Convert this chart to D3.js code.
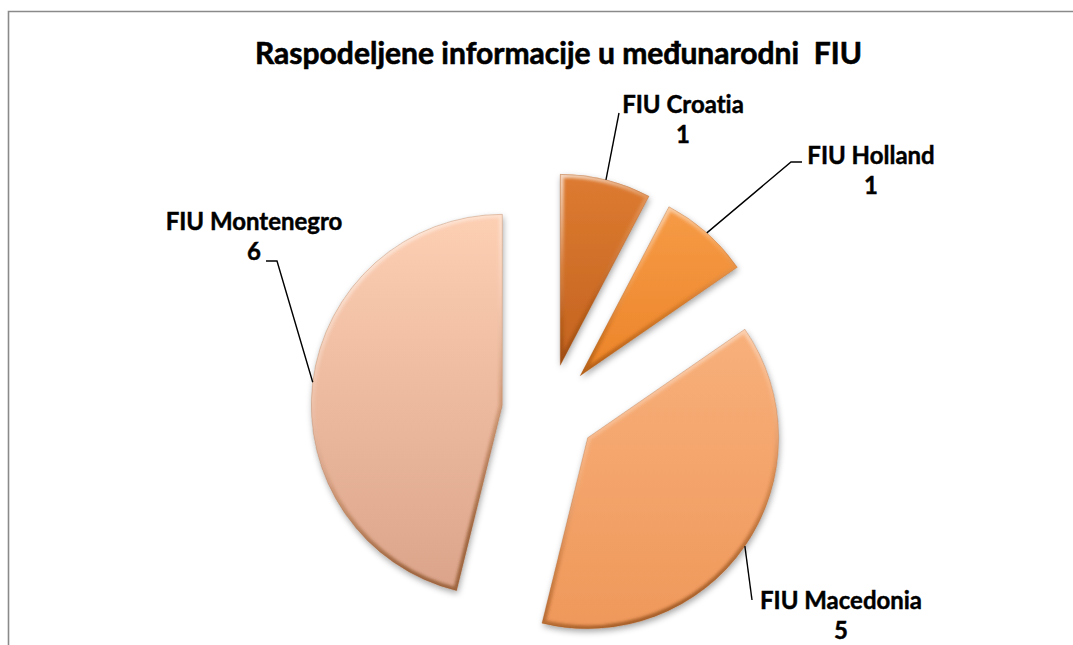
<!DOCTYPE html>
<html>
<head>
<meta charset="utf-8">
<script src="https://cdn.jsdelivr.net/npm/d3@7"></script>
<style>
  html, body { margin: 0; padding: 0; background: #fff; }
  svg { display: block; }
  text { font-family: Lato, "Open Sans", "Liberation Sans", sans-serif; font-weight: 700; fill: #000;
         stroke: #000; stroke-width: 0.45px; font-variant-ligatures: none; font-feature-settings: "liga" 0; }
</style>
</head>
<body>
<svg id="chart" width="1073" height="645"></svg>
<script>
// ---- data ----
const title = "Raspodeljene informacije u međunarodni  FIU";
const categories = ["FIU Croatia", "FIU Holland", "FIU Macedonia", "FIU Montenegro"];
const values = [1, 1, 5, 6];

// ---- styles ----
const gradTop    = ["#dd7b31", "#f69b47", "#f8b07b", "#fdcfb3"];
const gradBottom = ["#c3631f", "#ec8428", "#ef985a", "#dba48a"];

// ---- layout ----
const W = 1073, H = 645;
const cx = 549, cy = 411, R = 191, explode = 47;
const labelLayout = [
  { x: 683, y: 113, width: 120, leader: [[619, 113]] },
  { x: 871, y: 164, width: 127, leader: [[791, 162], [802, 162]] },
  { x: 841, y: 609, width: 163, leader: [[752, 600]] },
  { x: 254, y: 230, width: 179, leader: [[277, 261], [266, 261]] }
];
const lineGap = 30;

const svg = d3.select("#chart");
const defs = svg.append("defs");

// border (top + left edges of chart frame)
svg.append("path")
  .attr("d", `M8.5,${H} L8.5,11.5 L${W},11.5`)
  .attr("fill", "none").attr("stroke", "#8a8a8a").attr("stroke-width", 1.6);

// filters
const shadow = defs.append("filter").attr("id", "shadow")
  .attr("x", "-20%").attr("y", "-20%").attr("width", "140%").attr("height", "140%");
shadow.append("feDropShadow").attr("dx", 1).attr("dy", 3).attr("stdDeviation", 3)
  .attr("flood-color", "#000").attr("flood-opacity", 0.35);

const blur = defs.append("filter").attr("id", "soft")
  .attr("x", "-20%").attr("y", "-20%").attr("width", "140%").attr("height", "140%");
blur.append("feGaussianBlur").attr("stdDeviation", 1.6);

// gradients
categories.forEach((c, i) => {
  const g = defs.append("linearGradient").attr("id", "fill" + i)
    .attr("x1", 0).attr("y1", 0).attr("x2", 0).attr("y2", 1);
  g.append("stop").attr("offset", "0%").attr("stop-color", gradTop[i]);
  g.append("stop").attr("offset", "100%").attr("stop-color", gradBottom[i]);
});
const rim = defs.append("linearGradient").attr("id", "rim")
  .attr("x1", 0).attr("y1", 0).attr("x2", 0.3).attr("y2", 1);
rim.append("stop").attr("offset", "0%").attr("stop-color", "#fff").attr("stop-opacity", 0.7);
rim.append("stop").attr("offset", "45%").attr("stop-color", "#fff").attr("stop-opacity", 0.12);
rim.append("stop").attr("offset", "70%").attr("stop-color", "#7a3a10").attr("stop-opacity", 0.2);
rim.append("stop").attr("offset", "100%").attr("stop-color", "#6a2e08").attr("stop-opacity", 0.55);

const pie = d3.pie().sort(null).value(d => d).startAngle(0).endAngle(2 * Math.PI);
const arcs = pie(values);
const arc = d3.arc().innerRadius(0).outerRadius(R);

const slices = svg.append("g");
arcs.forEach((a, i) => {
  const mid = (a.startAngle + a.endAngle) / 2;
  const ox = cx + Math.sin(mid) * explode;
  const oy = cy - Math.cos(mid) * explode;
  const g = slices.append("g").attr("transform", `translate(${ox},${oy})`);
  const d = arc(a);
  defs.append("clipPath").attr("id", "clip" + i).append("path").attr("d", d);
  g.append("path").attr("d", d).attr("fill", `url(#fill${i})`).attr("filter", "url(#shadow)");
  g.append("g").attr("clip-path", `url(#clip${i})`)
    .append("path").attr("d", d)
    .attr("fill", "none").attr("stroke", "url(#rim)").attr("stroke-width", 7)
    .attr("stroke-linejoin", "round").attr("filter", "url(#soft)");
  g.append("path").attr("d", d).attr("fill", "none")
    .attr("stroke", "#9a5a30").attr("stroke-opacity", 0.35).attr("stroke-width", 0.8);
});

// leaders
const leaders = svg.append("g");
arcs.forEach((a, i) => {
  const mid = (a.startAngle + a.endAngle) / 2;
  const sx = cx + Math.sin(mid) * (explode + R);
  const sy = cy - Math.cos(mid) * (explode + R);
  const pts = [[sx, sy]].concat(labelLayout[i].leader);
  leaders.append("path").attr("d", d3.line()(pts))
    .attr("fill", "none").attr("stroke", "#000").attr("stroke-width", 1.4);
});

// labels
const labels = svg.append("g");
const labelEls = arcs.map((a, i) => {
  const L = labelLayout[i];
  const t = labels.append("text").attr("text-anchor", "middle").style("font-size", "20px");
  t.append("tspan").attr("x", L.x).attr("y", L.y).text(categories[i]);
  t.append("tspan").attr("x", L.x).attr("y", L.y + lineGap).text(values[i]);
  return t;
});
// fit common label size to reference widths
let ratio = 0;
labelEls.forEach((t, i) => {
  const w = t.select("tspan").node().getComputedTextLength();
  ratio += labelLayout[i].width / w;
});
ratio /= labelEls.length;
labelEls.forEach(t => t.style("font-size", (20 * ratio).toFixed(2) + "px"));

// title
const tt = svg.append("text").attr("x", 558.5).attr("y", 64).attr("text-anchor", "middle")
  .style("white-space", "pre").style("font-size", "24px").style("stroke-width", "0.6px").text(title);
const tw = tt.node().getComputedTextLength();
tt.style("font-size", (24 * 607 / tw).toFixed(2) + "px");
</script>
</body>
</html>
